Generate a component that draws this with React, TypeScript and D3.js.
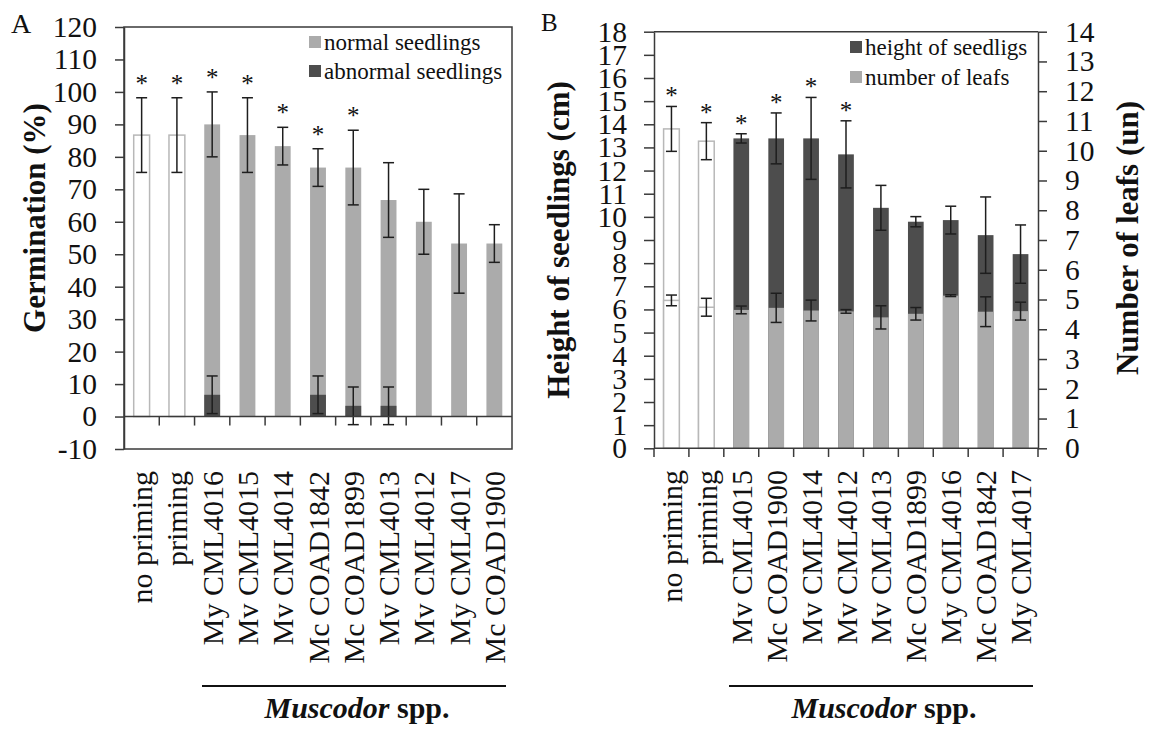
import React, { useEffect, useRef } from 'react';
import * as d3 from 'd3';

// Panel A - germination (%)
const catsA = ['no priming', 'priming', 'My CML4016', 'Mv CML4015', 'Mv CML4014', 'Mc COAD1842',
  'Mc COAD1899', 'Mv CML4013', 'Mv CML4012', 'My CML4017', 'Mc COAD1900'];
const normalA = [86.7, 86.7, 90, 86.7, 83.3, 76.7, 76.7, 66.7, 60, 53.3, 53.3];
const normalErrA = [11.5, 11.5, 10, 11.5, 5.8, 5.8, 11.5, 11.5, 10, 15.3, 5.8];
const abnormalA = [0, 0, 6.7, 0, 0, 6.7, 3.3, 3.3, 0, 0, 0];
const abnormalErrA = [0, 0, 5.8, 0, 0, 5.8, 5.8, 5.8, 0, 0, 0];
const sigA = [true, true, true, true, true, true, true, false, false, false, false];
const ticksA = d3.range(-10, 121, 10);

// Panel B - height (cm, left axis) and number of leafs (right axis)
const catsB = ['no priming', 'priming', 'Mv CML4015', 'Mc COAD1900', 'Mv CML4014', 'Mv CML4012',
  'Mv CML4013', 'Mc COAD1899', 'My CML4016', 'Mc COAD1842', 'My CML4017'];
const heightB = [13.8, 13.27, 13.39, 13.39, 13.39, 12.7, 10.39, 9.79, 9.86, 9.21, 8.39];
const heightErrB = [0.97, 0.8, 0.2, 1.1, 1.77, 1.45, 0.97, 0.22, 0.6, 1.65, 1.26];
const leavesB = [4.97, 4.74, 4.65, 4.72, 4.63, 4.6, 4.4, 4.52, 5.13, 4.59, 4.61];
const leavesErrB = [0.18, 0.3, 0.13, 0.49, 0.35, 0.06, 0.39, 0.21, 0.03, 0.5, 0.3];
const sigB = [true, true, true, true, true, true, false, false, false, false, false];
const ticksBLeft = d3.range(0, 19, 1);
const ticksBRight = d3.range(0, 15, 1);

const FONT = "'Liberation Serif', 'Times New Roman', serif";
const LIGHT = '#ababab';
const DARK = '#4d4d4d';
const AXIS = '#3a3a3a';
const ERR = '#1e1e1e';
const CONTROLS = ['no priming', 'priming'];

const App = () => {
  const ref = useRef<SVGSVGElement>(null);

  useEffect(() => {
    const svg = d3.select(ref.current);
    svg.selectAll('*').remove();

    const errorBar = (g: any, x: number, yHi: number, yLo: number) => {
      g.append('line').attr('x1', x).attr('x2', x).attr('y1', yHi).attr('y2', yLo)
        .attr('stroke', ERR).attr('stroke-width', 1.5);
      [yHi, yLo].forEach(y => {
        g.append('line').attr('x1', x - 5.5).attr('x2', x + 5.5).attr('y1', y).attr('y2', y)
          .attr('stroke', ERR).attr('stroke-width', 1.5);
      });
    };

    const styleAxis = (g: any) => {
      g.select('.domain').attr('stroke', AXIS).attr('stroke-width', 1.5);
      g.selectAll('.tick line').attr('stroke', AXIS).attr('stroke-width', 1.5);
      g.selectAll('.tick text').attr('font-family', FONT).attr('font-size', 29.5)
        .attr('fill', '#111');
    };

    const catLabels = (g: any, cats: string[], x: any, top: number) => {
      cats.forEach(c => {
        g.append('text')
          .attr('transform', `translate(${x(c) + x.bandwidth() / 2},${top}) rotate(-90)`)
          .attr('text-anchor', 'end')
          .attr('dy', '0.35em')
          .attr('font-family', FONT)
          .attr('font-size', 30)
          .attr('fill', '#111')
          .text(c);
      });
    };

    const muscodor = (g: any, x1: number, x2: number) => {
      g.append('line').attr('x1', x1).attr('x2', x2).attr('y1', 686).attr('y2', 686)
        .attr('stroke', '#111').attr('stroke-width', 2);
      const t = g.append('text').attr('x', (x1 + x2) / 2 + 3).attr('y', 718)
        .attr('text-anchor', 'middle').attr('font-family', FONT).attr('font-size', 30)
        .attr('font-weight', 'bold').attr('fill', '#111');
      t.append('tspan').attr('font-style', 'italic').text('Muscodor');
      t.append('tspan').text(' spp.');
    };

    const legendItem = (g: any, x: number, y: number, color: string, label: string) => {
      g.append('rect').attr('x', x).attr('y', y - 14).attr('width', 12).attr('height', 12)
        .attr('fill', color);
      g.append('text').attr('x', x + 15).attr('y', y).attr('font-family', FONT)
        .attr('font-size', 23).attr('fill', '#111').text(label);
    };

    const star = (g: any, x: number, y: number) => {
      g.append('text').attr('x', x).attr('y', y)
        .attr('text-anchor', 'middle').attr('font-family', FONT).attr('font-size', 25)
        .attr('fill', '#111').text('*');
    };

    // ---------------- Panel A ----------------
    const gA = svg.append('g');
    const xA = d3.scaleBand().domain(catsA).range([124, 512]).paddingInner(0.55).paddingOuter(0.275);
    const yA = d3.scaleLinear().domain([-10, 120]).range([449, 27]);

    catsA.forEach((c, i) => {
      const ctrl = CONTROLS.includes(c);
      gA.append('rect')
        .attr('x', xA(c)!).attr('width', xA.bandwidth())
        .attr('y', yA(normalA[i])).attr('height', yA(0) - yA(normalA[i]))
        .attr('fill', ctrl ? '#fff' : LIGHT)
        .attr('stroke', ctrl ? '#b8b8b8' : 'none').attr('stroke-width', 1.5);
      if (abnormalA[i] > 0) {
        gA.append('rect')
          .attr('x', xA(c)!).attr('width', xA.bandwidth())
          .attr('y', yA(abnormalA[i])).attr('height', yA(0) - yA(abnormalA[i]))
          .attr('fill', DARK);
      }
    });
    catsA.forEach((c, i) => {
      const cx = xA(c)! + xA.bandwidth() / 2;
      errorBar(gA, cx, yA(normalA[i] + normalErrA[i]), yA(normalA[i] - normalErrA[i]));
      if (abnormalA[i] > 0) {
        errorBar(gA, cx, yA(abnormalA[i] + abnormalErrA[i]), yA(abnormalA[i] - abnormalErrA[i]));
      }
      if (sigA[i]) star(gA, cx, yA(normalA[i] + normalErrA[i]) - 6);
    });

    // frame and axes
    gA.append('rect').attr('x', 124).attr('y', 27).attr('width', 388).attr('height', 422)
      .attr('fill', 'none').attr('stroke', AXIS).attr('stroke-width', 1.5);
    gA.append('line').attr('x1', 124).attr('x2', 512).attr('y1', yA(0)).attr('y2', yA(0))
      .attr('stroke', AXIS).attr('stroke-width', 1.5);
    d3.range(1, catsA.length).forEach(k => {
      const x = 124 + k * xA.step();
      gA.append('line').attr('x1', x).attr('x2', x).attr('y1', yA(0)).attr('y2', yA(0) + 9)
        .attr('stroke', AXIS).attr('stroke-width', 1.5);
    });
    const axA = gA.append('g').attr('transform', 'translate(124,0)')
      .call(d3.axisLeft(yA).tickValues(ticksA).tickFormat((d: any) => String(d))
        .tickSize(9).tickPadding(18).tickSizeOuter(0));
    styleAxis(axA);

    gA.append('text')
      .attr('transform', 'translate(34,218) rotate(-90)')
      .attr('text-anchor', 'middle').attr('dy', '0.35em')
      .attr('font-family', FONT).attr('font-size', 31).attr('font-weight', 'bold')
      .attr('fill', '#111').text('Germination (%)');
    gA.append('text').attr('x', 11).attr('y', 33).attr('font-family', FONT)
      .attr('font-size', 28).attr('fill', '#111').text('A');

    legendItem(gA, 309, 50, LIGHT, 'normal seedlings');
    legendItem(gA, 309, 79, DARK, 'abnormal seedlings');

    catLabels(gA, catsA, xA, 471);
    muscodor(gA, 202, 506);

    // ---------------- Panel B ----------------
    const gB = svg.append('g');
    const xB = d3.scaleBand().domain(catsB).range([654, 1038]).paddingInner(0.55).paddingOuter(0.275);
    const yL = d3.scaleLinear().domain([0, 18]).range([448.3, 31.7]);
    const yR = d3.scaleLinear().domain([0, 14]).range([448.3, 31.7]);

    catsB.forEach((c, i) => {
      const ctrl = CONTROLS.includes(c);
      gB.append('rect')
        .attr('x', xB(c)!).attr('width', xB.bandwidth())
        .attr('y', yL(heightB[i])).attr('height', yL(0) - yL(heightB[i]))
        .attr('fill', ctrl ? '#fff' : DARK)
        .attr('stroke', ctrl ? '#b8b8b8' : 'none').attr('stroke-width', 1.5);
      gB.append('rect')
        .attr('x', xB(c)!).attr('width', xB.bandwidth())
        .attr('y', yR(leavesB[i])).attr('height', yR(0) - yR(leavesB[i]))
        .attr('fill', ctrl ? '#fff' : LIGHT)
        .attr('stroke', ctrl ? '#b8b8b8' : 'none').attr('stroke-width', 1.5);
    });
    catsB.forEach((c, i) => {
      const cx = xB(c)! + xB.bandwidth() / 2;
      errorBar(gB, cx, yL(heightB[i] + heightErrB[i]), yL(heightB[i] - heightErrB[i]));
      errorBar(gB, cx, yR(leavesB[i] + leavesErrB[i]), yR(leavesB[i] - leavesErrB[i]));
      if (sigB[i]) star(gB, cx, yL(heightB[i] + heightErrB[i]) - 2);
    });

    gB.append('line').attr('x1', 654).attr('x2', 1038).attr('y1', 31.7).attr('y2', 31.7)
      .attr('stroke', AXIS).attr('stroke-width', 1.5);
    gB.append('line').attr('x1', 654).attr('x2', 1038).attr('y1', 448.3).attr('y2', 448.3)
      .attr('stroke', AXIS).attr('stroke-width', 1.5);
    d3.range(0, catsB.length + 1).forEach(k => {
      const x = 654 + k * xB.step();
      gB.append('line').attr('x1', x).attr('x2', x).attr('y1', 448.3).attr('y2', 457)
        .attr('stroke', AXIS).attr('stroke-width', 1.5);
    });
    const axL = gB.append('g').attr('transform', 'translate(654,0)')
      .call(d3.axisLeft(yL).tickValues(ticksBLeft).tickSize(10).tickPadding(17).tickSizeOuter(0));
    styleAxis(axL);
    const axR = gB.append('g').attr('transform', 'translate(1038,0)')
      .call(d3.axisRight(yR).tickValues(ticksBRight).tickSize(9).tickPadding(18).tickSizeOuter(0));
    styleAxis(axR);

    gB.append('text')
      .attr('transform', 'translate(558,240) rotate(-90)')
      .attr('text-anchor', 'middle').attr('dy', '0.35em')
      .attr('font-family', FONT).attr('font-size', 31).attr('font-weight', 'bold')
      .attr('fill', '#111').text('Height of seedlings (cm)');
    gB.append('text')
      .attr('transform', 'translate(1127,238) rotate(-90)')
      .attr('text-anchor', 'middle').attr('dy', '0.35em')
      .attr('font-family', FONT).attr('font-size', 31).attr('font-weight', 'bold')
      .attr('fill', '#111').text('Number of leafs (un)');
    gB.append('text').attr('x', 541).attr('y', 31).attr('font-family', FONT)
      .attr('font-size', 25).attr('fill', '#111').text('B');

    legendItem(gB, 850, 55, DARK, 'height of seedligs');
    legendItem(gB, 850, 85, LIGHT, 'number of leafs');

    catLabels(gB, catsB, xB, 470);
    muscodor(gB, 729, 1033);
  }, []);

  return (
    <svg ref={ref} width={1151} height={729}
      style={{ position: 'absolute', left: 0, top: 0, background: '#fff' }} />
  );
};

export default App;
